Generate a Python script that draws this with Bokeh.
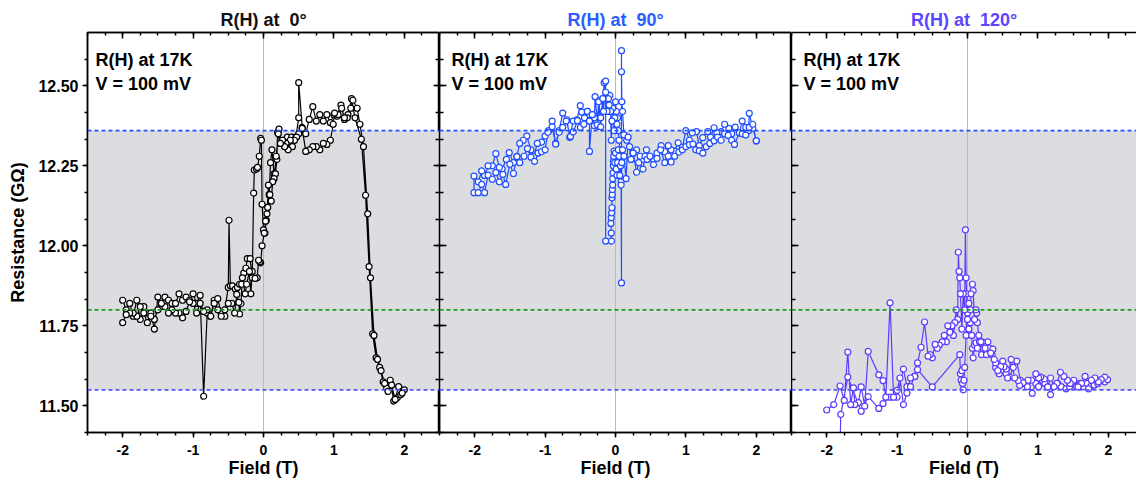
import numpy as np
from bokeh.plotting import figure
from bokeh.layouts import row
from bokeh.models import (Span, BoxAnnotation, Label, LinearAxis, FixedTicker,
                          NumeralTickFormatter, Range1d)
from bokeh.embed import file_html
from bokeh.resources import INLINE

# ---------------- data ----------------
panel_titles = ["R(H) at \u00a00°", "R(H) at \u00a090°", "R(H) at \u00a0120°"]
annotation_lines = ["R(H) at 17K", "V = 100 mV"]
x_axis_label = "Field (T)"
y_axis_label = "Resistance (GΩ)"
x_ticks = [-2, -1, 0, 1, 2]
x_tick_labels = ["-2", "-1", "0", "1", "2"]
y_ticks = [11.50, 11.75, 12.00, 12.25, 12.50]
band_low = 11.55
band_high = 12.36
mid_level = 11.80

# 0 deg: sweep -2 -> +2 then +2 -> -2  (field T, resistance GOhm)
sweep_up_0 = [
    (-2.00, 11.83), (-1.95, 11.80), (-1.90, 11.82), (-1.85, 11.78), (-1.80, 11.83),
    (-1.75, 11.77), (-1.70, 11.81), (-1.65, 11.79), (-1.60, 11.79), (-1.55, 11.74),
    (-1.50, 11.84), (-1.45, 11.81), (-1.40, 11.84), (-1.35, 11.83), (-1.30, 11.82),
    (-1.25, 11.82), (-1.20, 11.85), (-1.15, 11.83), (-1.10, 11.84), (-1.05, 11.83),
    (-1.00, 11.85), (-0.95, 11.82), (-0.90, 11.845), (-0.85, 11.53), (-0.80, 11.79),
    (-0.75, 11.78), (-0.70, 11.83), (-0.65, 11.835), (-0.60, 11.79), (-0.55, 11.80),
    (-0.50, 11.87), (-0.49, 12.08), (-0.47, 11.875), (-0.44, 11.875), (-0.40, 11.865),
    (-0.37, 11.87), (-0.34, 11.88), (-0.31, 11.88), (-0.28, 11.915), (-0.25, 11.93),
    (-0.23, 11.96), (-0.19, 11.96), (-0.16, 11.90), (-0.14, 12.165), (-0.13, 12.237),
    (-0.10, 12.24), (-0.085, 12.245), (-0.06, 12.28), (-0.04, 12.336), (-0.03, 12.33),
    (-0.02, 12.13), (0.00, 12.05), (0.02, 12.04), (0.04, 12.08), (0.06, 12.12),
    (0.08, 12.16), (0.10, 12.26), (0.12, 12.30), (0.15, 12.225), (0.17, 12.225),
    (0.19, 12.27), (0.20, 12.355), (0.22, 12.365), (0.25, 12.32), (0.28, 12.33),
    (0.31, 12.31), (0.34, 12.34), (0.37, 12.32), (0.40, 12.34), (0.43, 12.33),
    (0.46, 12.34), (0.50, 12.40), (0.50, 12.51), (0.55, 12.37), (0.60, 12.35),
    (0.65, 12.395), (0.70, 12.435), (0.75, 12.39), (0.80, 12.41), (0.85, 12.39),
    (0.90, 12.41), (0.95, 12.385), (1.00, 12.41), (1.05, 12.405), (1.10, 12.44),
    (1.15, 12.395), (1.20, 12.41), (1.25, 12.46), (1.30, 12.40), (1.39, 12.333),
    (1.45, 12.158), (1.50, 11.935), (1.55, 11.725), (1.60, 11.65), (1.65, 11.62),
    (1.70, 11.575), (1.75, 11.555), (1.80, 11.58), (1.85, 11.515), (1.90, 11.525),
    (1.95, 11.535), (2.00, 11.55),
]
sweep_down_0 = [
    (1.97, 11.54), (1.92, 11.56), (1.87, 11.52), (1.82, 11.565), (1.77, 11.545),
    (1.72, 11.57), (1.67, 11.61), (1.62, 11.645), (1.57, 11.72), (1.52, 11.90),
    (1.48, 12.10), (1.42, 12.31), (1.37, 12.38), (1.33, 12.43), (1.27, 12.455),
    (1.24, 12.43), (1.19, 12.40), (1.15, 12.40), (1.11, 12.43), (1.06, 12.41),
    (1.01, 12.415), (0.99, 12.38), (0.95, 12.33), (0.90, 12.317), (0.85, 12.32),
    (0.80, 12.30), (0.75, 12.31), (0.70, 12.31), (0.65, 12.30), (0.60, 12.295),
    (0.55, 12.367), (0.50, 12.35), (0.47, 12.34), (0.44, 12.33), (0.41, 12.31),
    (0.38, 12.33), (0.35, 12.30), (0.32, 12.32), (0.30, 12.31), (0.27, 12.33),
    (0.24, 12.32), (0.21, 12.35), (0.18, 12.28), (0.15, 12.21), (0.13, 12.20),
    (0.11, 12.14), (0.09, 12.16), (0.07, 12.19), (0.05, 12.10), (0.03, 12.077),
    (0.01, 12.04), (-0.02, 12.00), (-0.04, 11.947), (-0.05, 11.95), (-0.07, 11.955),
    (-0.09, 11.90), (-0.12, 11.898), (-0.16, 11.92), (-0.18, 11.85), (-0.20, 11.92),
    (-0.24, 11.88), (-0.26, 11.85), (-0.30, 11.90), (-0.32, 11.82), (-0.34, 11.787),
    (-0.35, 11.823), (-0.38, 11.848), (-0.41, 11.79), (-0.45, 11.82), (-0.50, 11.82),
    (-0.55, 11.78), (-0.60, 11.78), (-0.65, 11.80), (-0.70, 11.82), (-0.75, 11.78),
    (-0.80, 11.80), (-0.85, 11.795), (-0.90, 11.82), (-0.95, 11.79), (-1.00, 11.82),
    (-1.05, 11.825), (-1.10, 11.795), (-1.15, 11.775), (-1.20, 11.79), (-1.25, 11.79),
    (-1.30, 11.80), (-1.35, 11.79), (-1.40, 11.81), (-1.45, 11.82), (-1.50, 11.80),
    (-1.55, 11.77), (-1.60, 11.78), (-1.65, 11.76), (-1.70, 11.79), (-1.75, 11.81),
    (-1.80, 11.78), (-1.85, 11.79), (-1.90, 11.79), (-1.95, 11.785), (-2.00, 11.76),
]

# 90 deg
sweep_down_90 = [
    (2.00, 12.328), (1.95, 12.367), (1.90, 12.414), (1.89, 12.36), (1.85, 12.37),
    (1.80, 12.39), (1.76, 12.353), (1.70, 12.371), (1.65, 12.35), (1.61, 12.367),
    (1.55, 12.38), (1.50, 12.357), (1.44, 12.353), (1.40, 12.369), (1.35, 12.34),
    (1.31, 12.357), (1.24, 12.338), (1.19, 12.313), (1.15, 12.357), (1.09, 12.353),
    (1.05, 12.33), (1.00, 12.36), (0.95, 12.308), (0.89, 12.322), (0.84, 12.296),
    (0.79, 12.30), (0.75, 12.313), (0.70, 12.294), (0.65, 12.313), (0.59, 12.29),
    (0.54, 12.27), (0.49, 12.28), (0.44, 12.30), (0.39, 12.27), (0.35, 12.28),
    (0.30, 12.30), (0.25, 12.29), (0.20, 12.31), (0.16, 12.33), (0.12, 12.347),
    (0.10, 12.42), (0.09, 12.45), (0.085, 12.544), (0.085, 12.61), (0.085, 11.884),
    (0.08, 12.20), (0.07, 12.25), (0.06, 12.30), (0.05, 12.33), (0.04, 12.36),
    (0.03, 12.40), (0.02, 12.38), (0.01, 12.42), (0.00, 12.45), (-0.01, 12.40),
    (-0.02, 12.36), (-0.04, 12.43), (-0.05, 12.39), (-0.06, 12.33), (-0.07, 12.42),
    (-0.08, 12.47), (-0.09, 12.44), (-0.10, 12.46), (-0.12, 12.42), (-0.14, 12.48),
    (-0.16, 12.51), (-0.18, 12.46), (-0.21, 12.40), (-0.24, 12.453), (-0.25, 12.373),
    (-0.29, 12.466), (-0.30, 12.40), (-0.33, 12.41), (-0.37, 12.41), (-0.40, 12.42),
    (-0.44, 12.40), (-0.48, 12.418), (-0.50, 12.438), (-0.55, 12.394), (-0.60, 12.39),
    (-0.65, 12.339), (-0.69, 12.394), (-0.75, 12.415), (-0.80, 12.36), (-0.85, 12.32),
    (-0.90, 12.39), (-0.95, 12.36), (-1.00, 12.343), (-1.05, 12.324), (-1.11, 12.32),
    (-1.16, 12.28), (-1.20, 12.30), (-1.26, 12.343), (-1.31, 12.33), (-1.36, 12.32),
    (-1.40, 12.28), (-1.45, 12.26), (-1.51, 12.291), (-1.55, 12.27), (-1.61, 12.24),
    (-1.65, 12.245), (-1.70, 12.288), (-1.75, 12.25), (-1.81, 12.25), (-1.86, 12.22),
    (-1.90, 12.234), (-1.95, 12.20), (-2.01, 12.218),
]
sweep_up_90 = [
    (-2.01, 12.166), (-1.95, 12.166), (-1.90, 12.192), (-1.86, 12.166), (-1.81, 12.221),
    (-1.75, 12.208), (-1.70, 12.229), (-1.65, 12.20), (-1.60, 12.223), (-1.56, 12.192),
    (-1.50, 12.255), (-1.45, 12.226), (-1.40, 12.279), (-1.36, 12.26), (-1.30, 12.28),
    (-1.25, 12.304), (-1.20, 12.277), (-1.15, 12.264), (-1.10, 12.29), (-1.05, 12.294),
    (-1.00, 12.30), (-0.96, 12.355), (-0.90, 12.372), (-0.85, 12.318), (-0.80, 12.355),
    (-0.75, 12.37), (-0.70, 12.39), (-0.64, 12.342), (-0.60, 12.356), (-0.54, 12.391),
    (-0.50, 12.37), (-0.45, 12.38), (-0.40, 12.42), (-0.37, 12.39), (-0.37, 12.295),
    (-0.33, 12.41), (-0.30, 12.375), (-0.26, 12.378), (-0.24, 12.45), (-0.21, 12.372),
    (-0.18, 12.46), (-0.17, 12.42), (-0.14, 12.515), (-0.14, 12.015), (-0.057, 12.015),
    (-0.06, 12.04), (-0.065, 12.07), (-0.06, 12.088), (-0.055, 12.103), (-0.05, 12.119),
    (-0.05, 12.15), (-0.045, 12.16), (-0.045, 12.176), (-0.04, 12.19), (-0.04, 12.21),
    (-0.035, 12.228), (-0.03, 12.25), (-0.03, 12.265), (-0.025, 12.28), (-0.02, 12.296),
    (-0.01, 12.26), (0.00, 12.29), (0.01, 12.24), (0.02, 12.22), (0.03, 12.26),
    (0.04, 12.30), (0.05, 12.28), (0.06, 12.22), (0.07, 12.25), (0.08, 12.19),
    (0.09, 12.26), (0.10, 12.30), (0.12, 12.28), (0.15, 12.21), (0.18, 12.34),
    (0.22, 12.27), (0.25, 12.29), (0.30, 12.23), (0.33, 12.26), (0.39, 12.24),
    (0.42, 12.28), (0.45, 12.27), (0.49, 12.28), (0.54, 12.254), (0.59, 12.273),
    (0.64, 12.30), (0.70, 12.26), (0.75, 12.28), (0.79, 12.262), (0.84, 12.28),
    (0.90, 12.293), (0.95, 12.30), (1.00, 12.31), (1.05, 12.316), (1.10, 12.318),
    (1.14, 12.30), (1.19, 12.297), (1.24, 12.29), (1.29, 12.31), (1.34, 12.32),
    (1.40, 12.328), (1.45, 12.34), (1.50, 12.33), (1.55, 12.35), (1.60, 12.345),
    (1.65, 12.33), (1.69, 12.317), (1.76, 12.353), (1.80, 12.35), (1.85, 12.346),
    (1.90, 12.37), (1.95, 12.38), (2.00, 12.328),
]

# 120 deg: sweep -2 -> +2 (first point lies below the plotted range) then +2 -> -2
sweep_up_120 = [
    (-1.84, 11.10), (-1.80, 11.473), (-1.70, 11.59), (-1.51, 11.483), (-1.41, 11.529),
    (-1.26, 11.492), (-1.20, 11.507), (-1.10, 11.527), (-1.00, 11.527), (-0.91, 11.615),
    (-0.86, 11.56), (-0.81, 11.56), (-0.75, 11.592), (-0.71, 11.613), (-0.50, 11.559),
    (-0.11, 11.66), (-0.10, 11.60), (-0.09, 11.58), (-0.08, 11.61), (-0.07, 11.57),
    (-0.06, 11.55), (-0.05, 11.58), (-0.04, 11.62), (-0.02, 11.72), (-0.01, 11.85),
    (0.00, 11.79), (0.02, 11.74), (0.04, 11.76), (0.06, 11.72), (0.07, 11.68),
    (0.08, 11.65), (0.10, 11.69), (0.12, 11.697), (0.14, 11.68), (0.17, 11.70),
    (0.20, 11.66), (0.24, 11.69), (0.27, 11.66), (0.31, 11.68), (0.35, 11.66),
    (0.40, 11.62), (0.45, 11.63), (0.50, 11.61), (0.55, 11.60), (0.60, 11.59),
    (0.65, 11.62), (0.70, 11.64), (0.75, 11.58), (0.80, 11.57), (0.85, 11.56),
    (0.92, 11.539), (0.97, 11.57), (1.01, 11.56), (1.06, 11.58), (1.10, 11.57),
    (1.14, 11.559), (1.18, 11.535), (1.23, 11.56), (1.28, 11.57), (1.33, 11.56),
    (1.40, 11.553), (1.45, 11.56), (1.50, 11.575), (1.55, 11.56), (1.60, 11.57),
    (1.65, 11.56), (1.70, 11.57), (1.75, 11.56), (1.80, 11.565), (1.85, 11.57),
    (1.90, 11.58), (1.95, 11.575),
]
sweep_down_120 = [
    (1.99, 11.582), (1.95, 11.59), (1.90, 11.582), (1.86, 11.575), (1.81, 11.587),
    (1.76, 11.58), (1.72, 11.553), (1.67, 11.592), (1.62, 11.57), (1.57, 11.559),
    (1.51, 11.58), (1.46, 11.57), (1.42, 11.58), (1.37, 11.592), (1.32, 11.605),
    (1.27, 11.57), (1.23, 11.56), (1.18, 11.587), (1.14, 11.559), (1.09, 11.584),
    (1.04, 11.59), (1.01, 11.587), (0.97, 11.60), (0.91, 11.58), (0.86, 11.58),
    (0.79, 11.572), (0.74, 11.564), (0.72, 11.579), (0.67, 11.587), (0.62, 11.645),
    (0.57, 11.587), (0.55, 11.615), (0.52, 11.622), (0.50, 11.64), (0.47, 11.623),
    (0.45, 11.60), (0.43, 11.61), (0.40, 11.634), (0.38, 11.645), (0.36, 11.677),
    (0.33, 11.665), (0.29, 11.70), (0.25, 11.68), (0.21, 11.70), (0.19, 11.70),
    (0.16, 11.72), (0.14, 11.76), (0.13, 11.79), (0.12, 11.80), (0.10, 11.77),
    (0.08, 11.86), (0.07, 11.88), (0.05, 11.85), (0.04, 11.80), (0.02, 11.82),
    (0.00, 11.77), (-0.02, 11.90), (-0.03, 12.05), (-0.04, 11.80), (-0.06, 11.85),
    (-0.08, 11.74), (-0.10, 11.85), (-0.11, 11.90), (-0.12, 11.92), (-0.13, 11.98),
    (-0.14, 11.77), (-0.16, 11.80), (-0.18, 11.76), (-0.20, 11.72), (-0.22, 11.75),
    (-0.25, 11.73), (-0.28, 11.75), (-0.30, 11.70), (-0.33, 11.72), (-0.36, 11.70),
    (-0.40, 11.69), (-0.43, 11.68), (-0.46, 11.692), (-0.50, 11.65), (-0.53, 11.66),
    (-0.56, 11.655), (-0.61, 11.762), (-0.66, 11.683), (-0.71, 11.634), (-0.75, 11.592),
    (-0.81, 11.587), (-0.86, 11.54), (-0.91, 11.504), (-0.96, 11.587), (-1.00, 11.548),
    (-1.05, 11.527), (-1.10, 11.822), (-1.16, 11.527), (-1.20, 11.579), (-1.26, 11.597),
    (-1.41, 11.670), (-1.46, 11.499), (-1.51, 11.559), (-1.55, 11.51), (-1.60, 11.504),
    (-1.62, 11.556), (-1.66, 11.504), (-1.70, 11.668), (-1.75, 11.517), (-1.81, 11.562),
    (-1.90, 11.504), (-2.00, 11.487),
]

# ---------------- style ----------------
FONT = "Liberation Sans"
series_colors = ["#000000", "#1f4dff", "#5a3cff"]
title_colors = ["#111111", "#2a5cff", "#5b45ff"]
band_color = "#dcdde0"
upper_line_color = "#1f4fff"
lower_line_color = "#5757ff"
mid_line_color = "#1f9a1f"
Y_MIN, Y_MAX = 11.5 - 1 / 12, 12.5 + 1 / 6
X_MIN = -2.5
PX_PER_T = 70.4
FRAME_W = 352
LEFT_B = 87
H = 484
TOP_B = 32
BOTTOM_B = 52

x_minor = [float(v) for v in np.arange(-2.5, 2.51, 0.25)]
y_minor = [float(v) for v in np.arange(Y_MIN, Y_MAX + 0.001, 0.25 / 3)]


def base_axis(ax):
    ax.axis_line_width = 1.5
    ax.axis_line_color = "black"
    ax.major_tick_line_width = 1.5
    ax.minor_tick_line_width = 1.5
    ax.major_tick_line_color = "black"
    ax.minor_tick_line_color = "black"


def labelled_axis(ax, ticks, minor, size, standoff):
    base_axis(ax)
    ax.ticker = FixedTicker(ticks=ticks, minor_ticks=minor)
    ax.major_tick_in = 0
    ax.major_tick_out = 5
    ax.minor_tick_in = 0
    ax.minor_tick_out = 3
    ax.major_label_text_font = FONT
    ax.major_label_text_font_style = "bold"
    ax.major_label_text_font_size = size
    ax.major_label_text_color = "black"
    ax.major_label_standoff = standoff
    ax.axis_label_text_font = FONT
    ax.axis_label_text_font_style = "bold"
    ax.axis_label_text_font_size = "18px"
    ax.axis_label_text_color = "black"


def tick_only_axis(positions, length, line=True):
    # an axis without labels: all its marks are drawn as minor ticks
    ax = LinearAxis(ticker=FixedTicker(ticks=[], minor_ticks=positions))
    base_axis(ax)
    if not line:
        ax.axis_line_color = None
    ax.major_tick_in = 0
    ax.major_tick_out = 0
    ax.minor_tick_in = length
    ax.minor_tick_out = 0
    ax.major_label_standoff = 0
    ax.axis_label_standoff = 0
    return ax


def make_panel(idx, sweeps, first, last, width, x_end):
    color = series_colors[idx]
    p = figure(width=width, height=H, x_range=Range1d(X_MIN, x_end),
               y_range=Range1d(Y_MIN, Y_MAX), output_backend="svg",
               toolbar_location=None, min_border_left=LEFT_B if first else 0,
               min_border_right=0, min_border_top=TOP_B, min_border_bottom=BOTTOM_B,
               y_axis_location="left" if first else None)
    p.title.text = panel_titles[idx]
    p.title.align = "center"
    p.title.text_font = FONT
    p.title.text_font_size = "18px"
    p.title.text_font_style = "bold"
    p.title.text_color = title_colors[idx]
    p.title.standoff = 6
    p.xgrid.visible = False
    p.ygrid.visible = False
    # the last panel is cut at the right edge: no closing frame line there
    p.outline_line_color = None if last else "black"
    p.outline_line_width = 1.5
    p.background_fill_color = "white"
    p.border_fill_color = "white"

    # bottom axis with labels
    xa = p.xaxis[0]
    labelled_axis(xa, x_ticks, x_minor, "14px", 7)
    xa.major_label_overrides = {t: s for t, s in zip(x_ticks, x_tick_labels)}
    xa.axis_label = x_axis_label
    xa.axis_label_standoff = 0

    # top axis: inward ticks (long at majors, short at minors)
    p.add_layout(tick_only_axis(x_minor, 3), "above")
    p.add_layout(tick_only_axis([float(t) for t in x_ticks], 6, line=False), "above")

    if first:
        ya = p.yaxis[0]
        labelled_axis(ya, y_ticks, y_minor, "16px", 4)
        ya.formatter = NumeralTickFormatter(format="0.00")
        ya.axis_label = y_axis_label
        ya.axis_label_standoff = 7
        # ticks pointing into the frame on the right edge
        p.add_layout(tick_only_axis(y_minor, 4), "right")
        p.add_layout(tick_only_axis([float(t) for t in y_ticks], 6, line=False), "right")
    else:
        p.add_layout(tick_only_axis(y_minor, 4), "left")
        p.add_layout(tick_only_axis([float(t) for t in y_ticks], 7, line=False), "left")

    # band and reference lines
    p.add_layout(BoxAnnotation(bottom=band_low, top=band_high, fill_color=band_color,
                               fill_alpha=1.0, line_alpha=0, level="underlay"))
    p.add_layout(Span(location=0, dimension="height", line_color="#b8b8b8",
                      line_width=1, level="underlay"))
    p.add_layout(Span(location=band_high, dimension="width", line_color=upper_line_color,
                      line_width=1.7, line_dash="4 3"))
    p.add_layout(Span(location=band_low, dimension="width", line_color=lower_line_color,
                      line_width=1.7, line_dash="4 3"))
    p.add_layout(Span(location=mid_level, dimension="width", line_color=mid_line_color,
                      line_width=1.7, line_dash="4 3"))

    pts = sweeps[0] + sweeps[1]
    xs = [a for a, _ in pts]
    ys = [b for _, b in pts]
    p.line(xs, ys, line_color=color, line_width=1.2)
    p.scatter(xs, ys, marker="circle", size=6, fill_color="white",
              line_color=color, line_width=1.2)

    tx = 8 if first else 12
    for k, txt in enumerate(annotation_lines):
        p.add_layout(Label(x=tx, y=373 - 24 * k, x_units="screen", y_units="screen",
                           text=txt, text_font=FONT, text_font_size="18px",
                           text_font_style="bold", text_color="black",
                           text_baseline="alphabetic"))
    return p


w3 = 1136 - LEFT_B - 2 * FRAME_W
p0 = make_panel(0, (sweep_up_0, sweep_down_0), True, False, LEFT_B + FRAME_W, 2.5)
p1 = make_panel(1, (sweep_down_90, sweep_up_90), False, False, FRAME_W, 2.5)
p2 = make_panel(2, (sweep_up_120, sweep_down_120), False, True, w3, X_MIN + w3 / PX_PER_T)

layout = row(p0, p1, p2)
open("out.html", "w").write(file_html(layout, INLINE))
